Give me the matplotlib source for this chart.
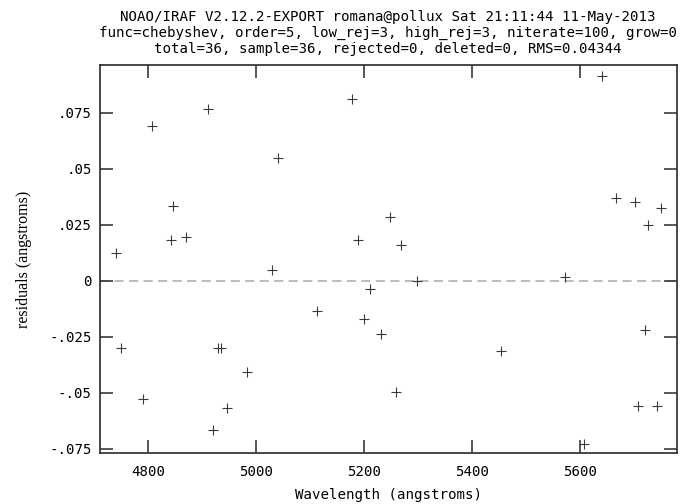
import matplotlib
matplotlib.use("Agg")
import matplotlib.pyplot as plt

# Fit residuals per line
wavelength = [4740.7, 4749.4, 4789.6, 4806.9, 4841.5, 4845.2, 4869.3, 4911.0,
              4920.4, 4929.1, 4934.6, 4946.3, 4982.8, 5029.6, 5040.2, 5111.8,
              5177.8, 5188.3, 5200.0, 5210.6, 5231.5, 5247.6, 5259.3, 5267.4,
              5298.3, 5452.6, 5572.2, 5606.9, 5640.2, 5665.6, 5701.3, 5707.4,
              5719.8, 5725.4, 5742.0, 5749.4]
residual = [0.0125, -0.0301, -0.0530, 0.0693, 0.0183, 0.0334, 0.0195, 0.0769,
            -0.0666, -0.0299, -0.0299, -0.0569, -0.0409, 0.0047, 0.0550, -0.0137,
            0.0811, 0.0181, -0.0171, -0.0036, -0.0238, 0.0286, -0.0497, 0.0158,
            0.0000, -0.0314, 0.0015, -0.0731, 0.0915, 0.0370, 0.0353, -0.0560,
            -0.0222, 0.0249, -0.0560, 0.0324]

x_ticks = [4800, 5000, 5200, 5400, 5600]
y_ticks = [-0.075, -0.05, -0.025, 0.0, 0.025, 0.05, 0.075]
y_tick_labels = ["-.075", "-.05", "-.025", "0", ".025", ".05", ".075"]

title_lines = [
    "NOAO/IRAF V2.12.2-EXPORT romana@pollux Sat 21:11:44 11-May-2013",
    "func=chebyshev, order=5, low_rej=3, high_rej=3, niterate=100, grow=0",
    "total=36, sample=36, rejected=0, deleted=0, RMS=0.04344",
]

FONT = "DejaVu Sans Mono"
FS = 10.2
INK = "#2a2a2a"

fig = plt.figure(figsize=(6.83, 5.04), dpi=100)
ax = fig.add_axes([100 / 683, 51 / 504, 577 / 683, 388 / 504])

ax.plot(wavelength, residual, linestyle="none", marker="+", markersize=7.5,
        markeredgewidth=0.8, color="#3a3a3a")
ax.axhline(0.0, color="#aaaaaa", linewidth=1.1, linestyle=(0, (6, 3.5)), zorder=0)

ax.set_xlim(4710.6, 5779.0)
ax.set_ylim(-0.0770, 0.0964)

ax.set_xticks(x_ticks)
ax.set_xticklabels([str(v) for v in x_ticks], fontfamily=FONT, fontsize=FS)
ax.set_yticks(y_ticks)
ax.set_yticklabels(y_tick_labels, fontfamily=FONT, fontsize=FS)
ax.tick_params(axis="both", which="major", direction="in", length=9.5, width=1.1,
               color=INK, top=True, right=True, labelcolor="black")
ax.tick_params(axis="x", pad=9)
ax.tick_params(axis="y", pad=6)

for spine in ax.spines.values():
    spine.set_linewidth(1.2)
    spine.set_color(INK)

ax.set_xlabel("Wavelength (angstroms)", fontfamily=FONT, fontsize=FS, labelpad=6)
ax.set_ylabel("residuals (angstroms)", fontfamily="Liberation Serif", fontsize=11.5,
              labelpad=12)

fig.text(388 / 683, 1 - 33 / 504, "\n".join(title_lines), ha="center", va="center",
         fontfamily=FONT, fontsize=FS, linespacing=1.15)

fig.savefig("out.png", dpi=100)
